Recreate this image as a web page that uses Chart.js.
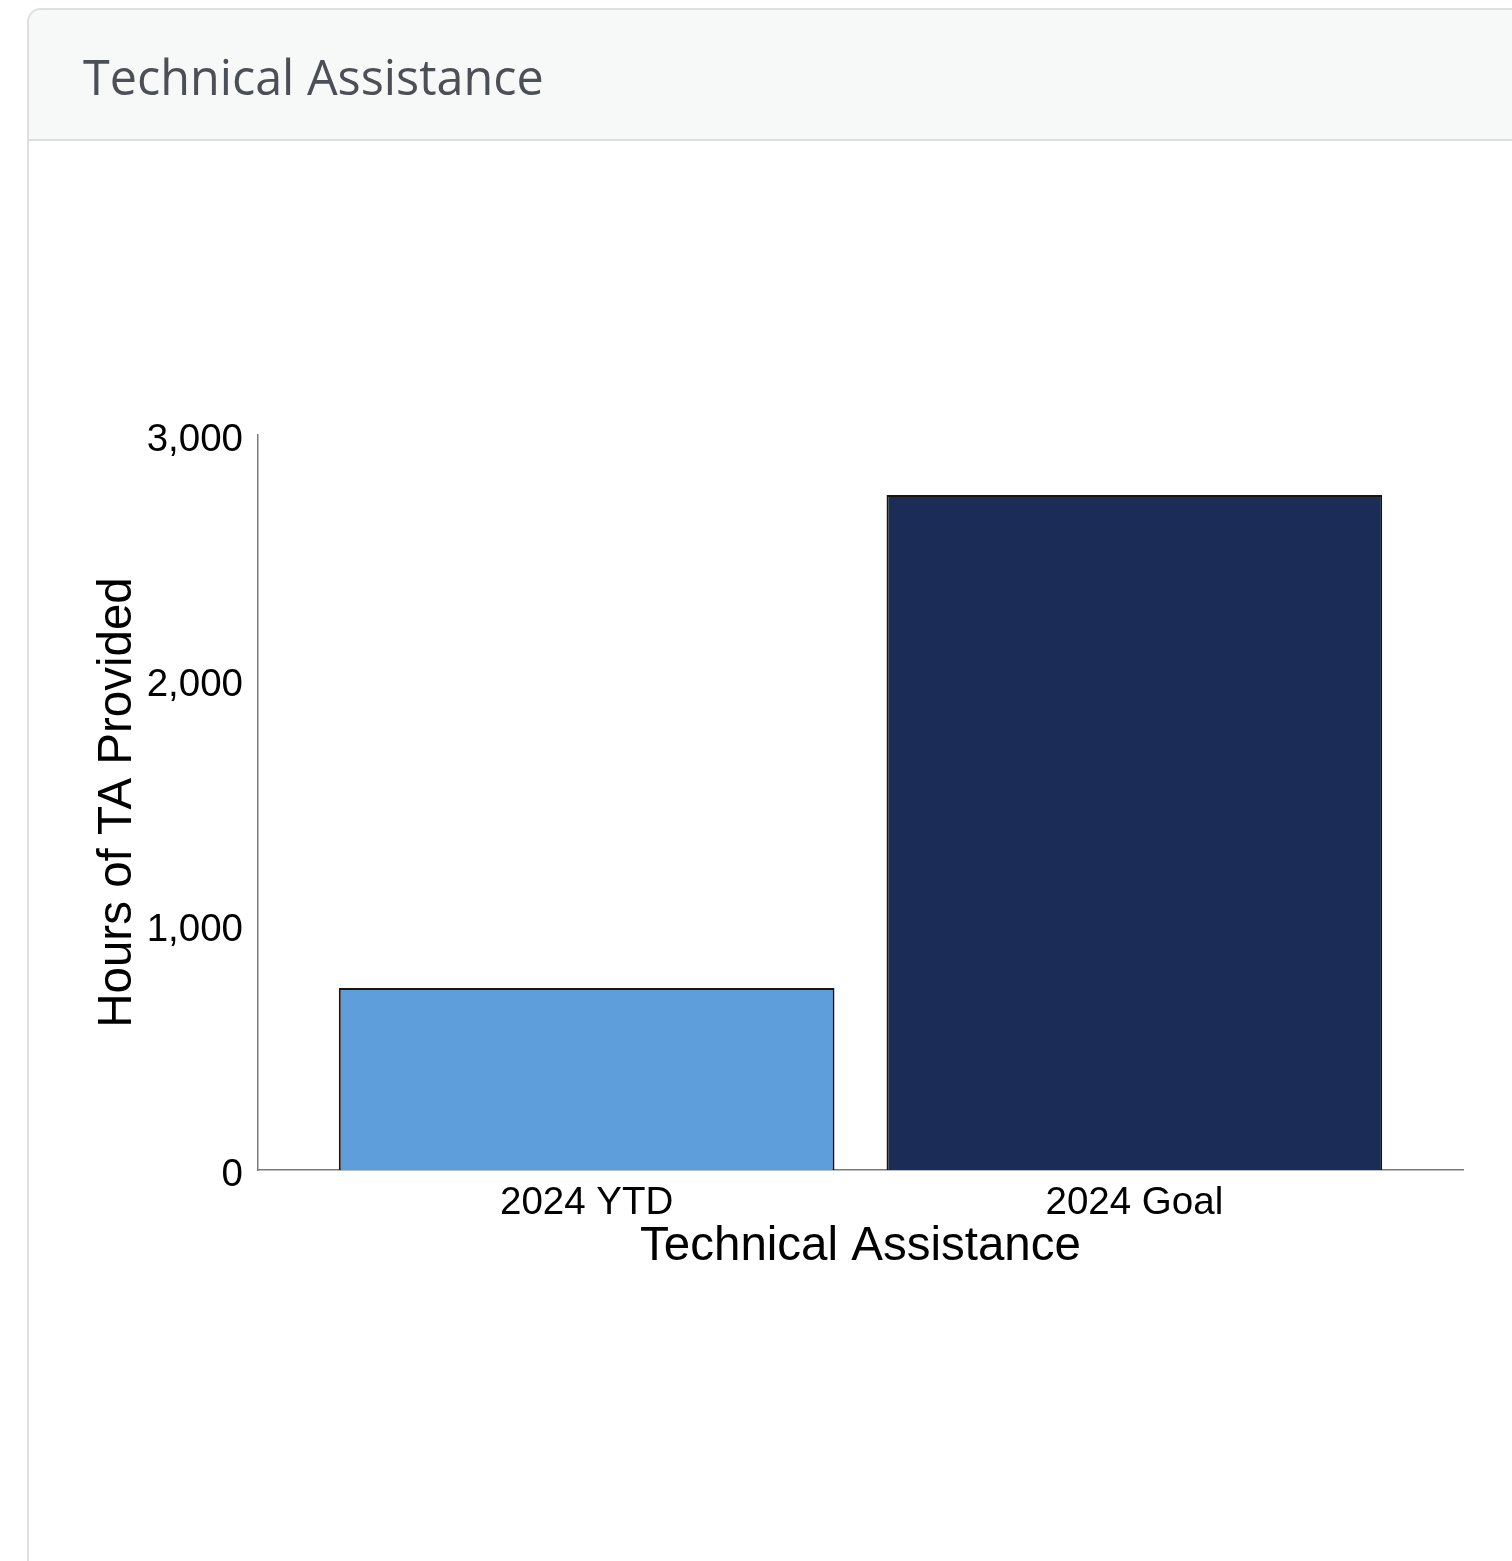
<!DOCTYPE html>
<html>
<head>
<meta charset="utf-8">
<script src="https://cdn.jsdelivr.net/npm/chart.js@4"></script>
<style>
  html, body { margin: 0; padding: 0; background: #fff; overflow: hidden; }
  body { width: 1512px; height: 1561px; position: relative; }
  .card {
    position: absolute; left: 27px; top: 8px; width: 1520px; height: 1600px;
    border: 2px solid #dedfe0; border-radius: 14px; background: #fff; overflow: hidden;
  }
  .card-header {
    height: 131px; background: #f7f8f8; border-bottom: 2px solid #dedfe0;
    box-sizing: border-box; padding-left: 54px;
    font-family: "Open Sans", "Noto Sans", sans-serif; font-size: 48.5px; color: #4b5056;
    line-height: 132px;
  }
  #wrap { position: absolute; left: 28px; top: 140px; width: 1484px; height: 1421px; }
</style>
</head>
<body>
<div class="card"><div class="card-header">Technical Assistance</div></div>
<div id="wrap"><canvas id="chart"></canvas></div>
<script>
const categories = ['2024 YTD', '2024 Goal'];
const hours = [743, 2755];
const barColors = ['#5e9edb', '#1b2d56'];
const yTicks = [0, 1000, 2000, 3000];

const font = 'Liberation Sans, Arial, sans-serif';

new Chart(document.getElementById('chart'), {
  type: 'bar',
  data: {
    datasets: [{
      data: categories.map((c, i) => ({ x: i + 1, y: hours[i] })),
      backgroundColor: barColors,
      borderColor: '#151515',
      borderWidth: 2,
      barPercentage: 0.905,
      categoryPercentage: 1.0
    }]
  },
  options: {
    responsive: true,
    maintainAspectRatio: false,
    animation: false,
    layout: { padding: { left: 61, top: 295, right: 49, bottom: 286 } },
    plugins: { legend: { display: false }, tooltip: { enabled: false } },
    scales: {
      x: {
        type: 'linear',
        offset: false,
        min: 0.4,
        max: 2.6,
        grid: { display: false, drawTicks: false, offset: false },
        border: { display: true, color: '#7a7a7a', width: 1.5 },
        afterBuildTicks: (scale) => { scale.ticks = categories.map((c, i) => ({ value: i + 1 })); },
        afterFit: (scale) => { scale.height = 105; },
        ticks: {
          padding: 10,
          color: '#000',
          font: { family: font, size: 38.5 },
          callback: (v) => categories[v - 1]
        },
        title: {
          display: true,
          text: 'Technical Assistance',
          color: '#000',
          font: { family: font, size: 47.5 },
          padding: 0
        }
      },
      y: {
        min: 0,
        max: 3000,
        grid: { display: false, drawTicks: false },
        border: { display: true, color: '#7a7a7a', width: 1.5 },
        afterBuildTicks: (scale) => { scale.ticks = yTicks.map(v => ({ value: v })); },
        afterFit: (scale) => { scale.width = 169; },
        ticks: {
          padding: 15,
          color: '#000',
          font: { family: font, size: 38.5, lineHeight: '10px' },
          callback: (v) => ['', v.toLocaleString('en-US')]
        },
        title: {
          display: true,
          text: 'Hours of TA Provided',
          color: '#000',
          font: { family: font, size: 47.5 },
          padding: 0
        }
      }
    }
  }
});
</script>
</body>
</html>
